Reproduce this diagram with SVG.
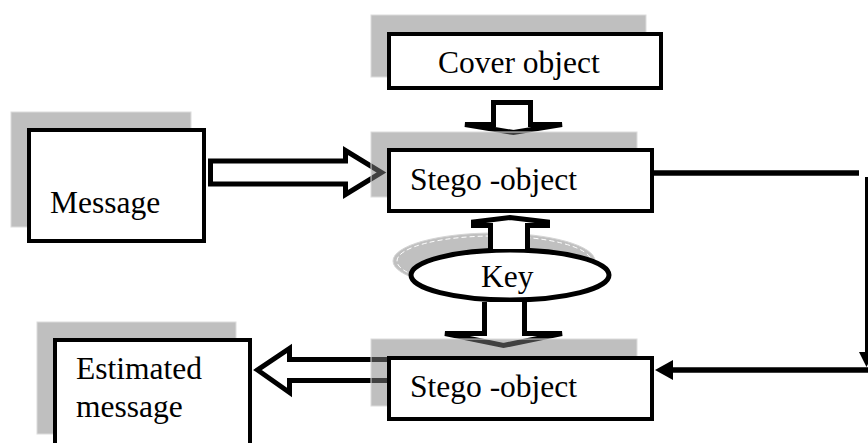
<svg xmlns="http://www.w3.org/2000/svg" width="868" height="443" viewBox="0 0 868 443">
  <style>
    .shadow { fill: #808080; fill-opacity: 0.5; stroke: #dcdcdc; stroke-width: 1; }
    .box { fill: #ffffff; stroke: #000000; stroke-width: 4; }
    .label { font-family: "Liberation Serif", "Times New Roman", serif; font-size: 31.5px; fill: #000000; }
    .block { fill: #ffffff; stroke: #000000; stroke-width: 5; stroke-linejoin: miter; }
    .line { fill: none; stroke: #000000; stroke-width: 5.5; }
    .head { fill: #000000; stroke: none; }
  </style>
  <rect width="868" height="443" fill="#ffffff"/>

  <!-- Key sits under the arrows that leave it -->
  <g id="key">
    <ellipse cx="494" cy="261" rx="101" ry="28" fill="#c0c0c0" stroke="#d4d4d4" stroke-width="1"/>
    <ellipse cx="494" cy="261" rx="97" ry="25" fill="none" stroke="#ffffff" stroke-width="1" stroke-dasharray="5 3"/>
    <ellipse cx="510" cy="275" rx="99" ry="25" class="block"/>
    <text x="481" y="287" class="label">Key</text>
  </g>

  <g id="connectors">
    <!-- Message to stego-object -->
    <path class="block" d="M210.5 161 H345.5 V150.5 L381.5 172.5 L345.5 194.5 V184 H210.5 Z"/>
    <!-- cover object down to stego-object -->
    <path class="block" d="M493.5 124.5 V102.5 H530.5 V124.5 H562 L513.5 132.5 L465 124.5 Z"/>
    <!-- key up to stego-object -->
    <path class="block" d="M490.5 249 V225.5 H473.5 V222 L510 217.5 L547.5 222 V225.5 H527.5 V249"/>
    <!-- key down to lower stego-object -->
    <path class="block" d="M484.5 302 V333.5 H445 L503.5 345.5 L562 333.5 H524.5 V302"/>
    <!-- lower stego-object to estimated message -->
    <path class="block" d="M387 359.5 H289.5 V348.5 L257.5 370 L289.5 392.5 V380.5 H387"/>
    <!-- return line on the right -->
    <line class="line" x1="654" y1="173" x2="859" y2="173"/>
    <line x1="866.5" y1="177" x2="866.5" y2="356" stroke="#000000" stroke-width="3"/>
    <polygon class="head" points="859,352 874,352 866.5,367"/>
    <line class="line" x1="868" y1="370" x2="670" y2="370"/>
    <polygon class="head" points="655,370 673,360 673,380"/>
  </g>

  <g id="cover-object">
    <rect class="shadow" x="371" y="15" width="275" height="62"/>
    <rect class="box" x="389" y="34" width="272" height="54"/>
    <text x="438" y="73" class="label">Cover object</text>
  </g>

  <g id="message">
    <rect class="shadow" x="11" y="112" width="180" height="115"/>
    <rect class="box" x="29" y="130" width="175" height="111"/>
    <text x="50" y="213" class="label">Message</text>
  </g>

  <g id="stego-object">
    <rect class="shadow" x="371" y="132" width="266" height="65"/>
    <rect class="box" x="389" y="150" width="263" height="61"/>
    <text x="410" y="190" class="label">Stego -object</text>
  </g>

  <g id="stego-object-received">
    <rect class="shadow" x="371" y="339" width="266" height="67"/>
    <rect class="box" x="389" y="358" width="263" height="61"/>
    <text x="410" y="397" class="label">Stego -object</text>
  </g>

  <g id="estimated-message">
    <rect class="shadow" x="37" y="322" width="199" height="112"/>
    <rect class="box" x="55" y="340" width="195" height="120"/>
    <text x="76" y="379" class="label">Estimated</text>
    <text x="76" y="417" class="label">message</text>
  </g>
</svg>
